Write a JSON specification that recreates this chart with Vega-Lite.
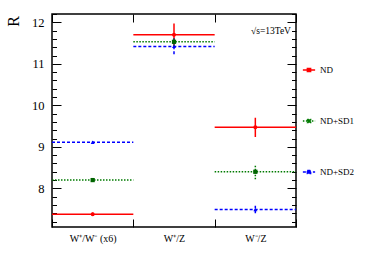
{
  "$schema": "https://vega.github.io/schema/vega-lite/v6.json",
  "width": 244,
  "height": 213,
  "autosize": {"type": "none"},
  "padding": {"left": 52, "top": 14, "right": 78, "bottom": 43},
  "background": "white",
  "config": {
    "font": "Liberation Serif",
    "view": {"stroke": "black", "strokeWidth": 1.5}
  },
  "data": {
    "values": [
      {"cat": "W⁺/W⁻ (x6)", "series": "ND", "value": 7.38, "lo": 7.34, "hi": 7.42},
      {"cat": "W⁺/W⁻ (x6)", "series": "ND+SD1", "value": 8.2, "lo": 8.17, "hi": 8.23},
      {"cat": "W⁺/W⁻ (x6)", "series": "ND+SD2", "value": 9.11, "lo": 9.08, "hi": 9.14},
      {"cat": "W⁺/Z", "series": "ND", "value": 11.7, "lo": 11.44, "hi": 11.97},
      {"cat": "W⁺/Z", "series": "ND+SD1", "value": 11.53, "lo": 11.43, "hi": 11.63},
      {"cat": "W⁺/Z", "series": "ND+SD2", "value": 11.42, "lo": 11.23, "hi": 11.61},
      {"cat": "W⁻/Z", "series": "ND", "value": 9.47, "lo": 9.24, "hi": 9.7},
      {"cat": "W⁻/Z", "series": "ND+SD1", "value": 8.4, "lo": 8.22, "hi": 8.58},
      {"cat": "W⁻/Z", "series": "ND+SD2", "value": 7.49, "lo": 7.4, "hi": 7.58}
    ]
  },
  "layer": [
    {
      "mark": {"type": "rule", "strokeWidth": 1.5},
      "encoding": {
        "x": {"field": "cat", "type": "nominal", "bandPosition": 0,
          "scale": {"type": "band", "domain": ["W⁺/W⁻ (x6)", "W⁺/Z", "W⁻/Z"], "paddingInner": 0, "paddingOuter": 0},
          "axis": {"orient": "bottom", "title": null, "domain": false, "offset": -8, "tickBand": "extent", "tickSize": 8, "tickColor": "black", "labelColor": "black", "labelAngle": 0, "labelFontSize": 10, "labelPadding": 6}},
        "x2": {"field": "cat", "bandPosition": 1},
        "y": {"field": "value", "type": "quantitative",
          "scale": {"domain": [7.07, 12.2], "nice": false, "zero": false},
          "axis": {"orient": "left", "grid": false, "domain": false, "offset": -9, "values": [8, 9, 10, 11, 12], "format": "d", "tickSize": 9, "tickColor": "black", "labelColor": "black",
            "labelFontSize": 12.5, "labelPadding": 8,
            "title": "R", "titleColor": "black", "titleX": -48, "titleY": 7, "titleFontSize": 16, "titleFontWeight": "normal", "titleBaseline": "middle", "titleAlign": "center", "titleAngle": 270}},
        "color": {"field": "series", "type": "nominal",
          "scale": {"domain": ["ND", "ND+SD1", "ND+SD2"], "range": ["#ff0000", "#007a00", "#0000ff"]},
          "legend": {"orient": "none", "legendX": 250, "legendY": 49, "title": null, "padding": 0,
            "symbolType": "M-1,0H1M-0.28,-0.28H0.28V0.28H-0.28Z", "symbolSize": 150, "symbolStrokeWidth": 1.3,
            "labelFontSize": 9, "labelOffset": 4, "rowPadding": 39, "labelFont": "Liberation Serif", "labelColor": "black",
            "encode": {"symbols": {"update": {"fill": {"scale": "color", "field": "value"}}}}}},
        "strokeDash": {"field": "series", "type": "nominal",
          "scale": {"domain": ["ND", "ND+SD1", "ND+SD2"], "range": [[1, 0], [1.5, 1.5], [3, 2]]},
          "legend": {"orient": "none", "legendX": 250, "legendY": 49, "title": null}}
      }
    },
    {
      "mark": {"type": "rule", "strokeWidth": 1.5},
      "encoding": {
        "x": {"field": "cat", "type": "nominal",
          "scale": {"type": "band", "domain": ["W⁺/W⁻ (x6)", "W⁺/Z", "W⁻/Z"], "paddingInner": 0, "paddingOuter": 0},
          "axis": {"orient": "top", "title": null, "labels": false, "domain": false, "offset": -8, "tickBand": "extent", "tickSize": 8, "tickColor": "black"}},
        "y": {"field": "lo", "type": "quantitative",
          "scale": {"domain": [7.07, 12.2], "nice": false, "zero": false},
          "axis": {"orient": "right", "title": null, "grid": false, "labels": false, "domain": false, "offset": -9, "values": [8, 9, 10, 11, 12], "tickSize": 9, "tickColor": "black"}},
        "y2": {"field": "hi"},
        "color": {"field": "series", "type": "nominal"},
        "strokeDash": {"field": "series", "type": "nominal"}
      }
    },
    {
      "transform": [{"filter": "datum.series === 'ND'"}],
      "mark": {"type": "point", "filled": true, "opacity": 1, "size": 16, "shape": "circle", "color": "#ff0000"},
      "encoding": {
        "x": {"field": "cat", "type": "nominal", "axis": null,
          "scale": {"type": "band", "domain": ["W⁺/W⁻ (x6)", "W⁺/Z", "W⁻/Z"], "paddingInner": 0, "paddingOuter": 0}},
        "y": {"field": "value", "type": "quantitative",
          "scale": {"domain": [7.07, 12.2], "nice": false, "zero": false},
          "axis": {"orient": "left", "title": null, "grid": false, "labels": false, "domain": false, "offset": -4.5, "tickSize": 4.5, "tickColor": "black",
            "values": [7.2, 7.4, 7.6, 7.8, 8.2, 8.4, 8.6, 8.8, 9.2, 9.4, 9.6, 9.8, 10.2, 10.4, 10.6, 10.8, 11.2, 11.4, 11.6, 11.8, 12.2]}}
      }
    },
    {
      "transform": [{"filter": "datum.series === 'ND+SD1'"}],
      "mark": {"type": "point", "filled": true, "opacity": 1, "size": 18, "shape": "square", "color": "#006400"},
      "encoding": {
        "x": {"field": "cat", "type": "nominal", "axis": null,
          "scale": {"type": "band", "domain": ["W⁺/W⁻ (x6)", "W⁺/Z", "W⁻/Z"], "paddingInner": 0, "paddingOuter": 0}},
        "y": {"field": "value", "type": "quantitative",
          "scale": {"domain": [7.07, 12.2], "nice": false, "zero": false},
          "axis": {"orient": "right", "title": null, "grid": false, "labels": false, "domain": false, "offset": -4.5, "tickSize": 4.5, "tickColor": "black",
            "values": [7.2, 7.4, 7.6, 7.8, 8.2, 8.4, 8.6, 8.8, 9.2, 9.4, 9.6, 9.8, 10.2, 10.4, 10.6, 10.8, 11.2, 11.4, 11.6, 11.8, 12.2]}}
      }
    },
    {
      "transform": [{"filter": "datum.series === 'ND+SD2'"}],
      "mark": {"type": "point", "filled": true, "opacity": 1, "size": 16, "shape": "triangle-up", "color": "#0000ff"},
      "encoding": {
        "x": {"field": "cat", "type": "nominal", "axis": null,
          "scale": {"type": "band", "domain": ["W⁺/W⁻ (x6)", "W⁺/Z", "W⁻/Z"], "paddingInner": 0, "paddingOuter": 0}},
        "y": {"field": "value", "type": "quantitative", "axis": null,
          "scale": {"domain": [7.07, 12.2], "nice": false, "zero": false}}
      }
    },
    {
      "data": {"values": [{"label": "√s=13TeV", "cat": "W⁻/Z", "yv": 11.78}]},
      "mark": {"type": "text", "align": "right", "baseline": "middle", "dx": -5, "fontSize": 9.5, "font": "Liberation Serif", "color": "black"},
      "encoding": {
        "x": {"field": "cat", "type": "nominal", "bandPosition": 1, "axis": null,
          "scale": {"type": "band", "domain": ["W⁺/W⁻ (x6)", "W⁺/Z", "W⁻/Z"], "paddingInner": 0, "paddingOuter": 0}},
        "y": {"field": "yv", "type": "quantitative", "axis": null,
          "scale": {"domain": [7.07, 12.2], "nice": false, "zero": false}},
        "text": {"field": "label"}
      }
    }
  ],
  "resolve": {"scale": {"x": "independent", "y": "independent"}, "axis": {"x": "independent", "y": "independent"}}
}
